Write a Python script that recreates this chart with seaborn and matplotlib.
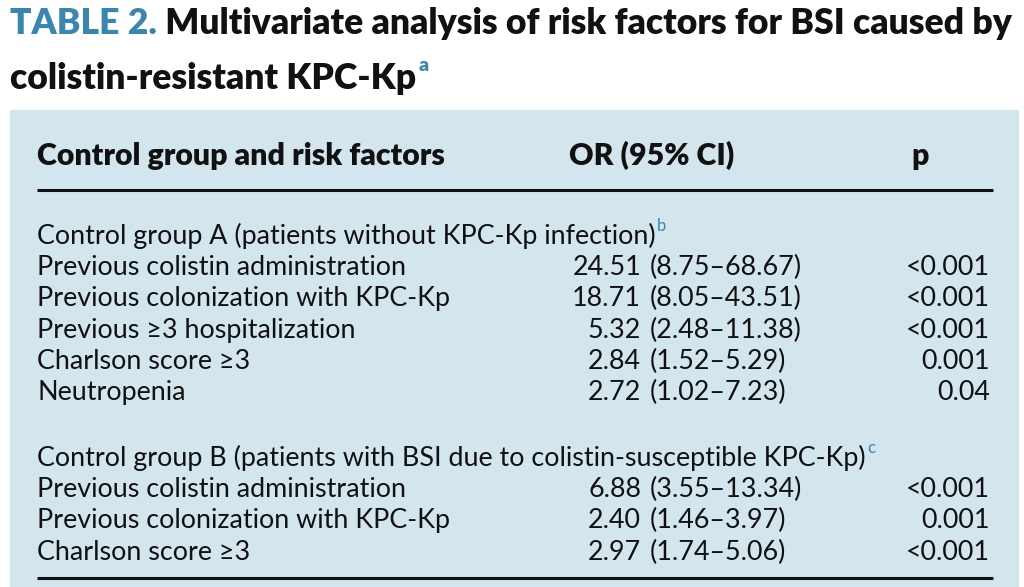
import pandas as pd
import matplotlib.pyplot as plt
import seaborn as sns
from matplotlib.patches import Rectangle

# Table content
title_tag = "TABLE 2."
title_line1 = " Multivariate analysis of risk factors for BSI caused by"
title_line2 = "colistin-resistant KPC-Kp"
header = ["Control group and risk factors", "OR (95% CI)", "p"]

group_labels = ["Control group A (patients without KPC-Kp infection)",
                "Control group B (patients with BSI due to colistin-susceptible KPC-Kp)"]
group_notes = ["b", "c"]

factors_a = ["Previous colistin administration", "Previous colonization with KPC-Kp",
             "Previous \u22653 hospitalization", "Charlson score \u22653", "Neutropenia"]
or_a = [24.51, 18.71, 5.32, 2.84, 2.72]
ci_low_a = [8.75, 8.05, 2.48, 1.52, 1.02]
ci_high_a = [68.67, 43.51, 11.38, 5.29, 7.23]
p_a = ["<0.001", "<0.001", "<0.001", "0.001", "0.04"]

factors_b = ["Previous colistin administration", "Previous colonization with KPC-Kp",
             "Charlson score \u22653"]
or_b = [6.88, 2.40, 2.97]
ci_low_b = [3.55, 1.46, 1.74]
ci_high_b = [13.34, 3.97, 5.06]
p_b = ["<0.001", "0.001", "<0.001"]

df_a = pd.DataFrame({"factor": factors_a, "or": or_a, "lo": ci_low_a, "hi": ci_high_a, "p": p_a})
df_b = pd.DataFrame({"factor": factors_b, "or": or_b, "lo": ci_low_b, "hi": ci_high_b, "p": p_b})

sns.set_theme(style="white")
plt.rcParams['font.family'] = ['Lato', 'DejaVu Sans']

blue = "#3a86b1"
ink = "#111111"
panel = "#d4e6ed"

fig = plt.figure(figsize=(10.24, 5.87), dpi=100)
ax = fig.add_axes([0, 0, 1, 1])
ax.set_xlim(0, 1024)
ax.set_ylim(587, 0)
ax.axis("off")

# Title
tsize = 25.6
t1 = ax.text(10, 34, title_tag, color=blue, fontsize=tsize, fontweight="heavy", va="baseline")
ax.annotate(title_line1, xy=(1, 0), xycoords=t1, va="bottom", ha="left",
            color=ink, fontsize=tsize, fontweight="heavy")
t2 = ax.text(10, 89, title_line2, color=ink, fontsize=tsize, fontweight="heavy", va="baseline")
ax.annotate("a", xy=(1, 0.9), xycoords=t2, xytext=(2, 0), textcoords="offset points",
            va="center", ha="left", color=blue, fontsize=14, fontweight="heavy")

# Blue panel
ax.add_patch(Rectangle((10, 110), 1008, 477, color=panel, zorder=0))

x_left, x_or, x_ci, x_p = 37, 641, 650, 990
body = 19.4

# Header
hsize = 21.8
ax.text(x_left, 165, header[0], fontsize=hsize, fontweight="heavy", color=ink, va="baseline")
ax.text(652, 165, header[1], fontsize=hsize, fontweight="heavy", color=ink, va="baseline", ha="center")
ax.text(920, 165, header[2], fontsize=hsize, fontweight="heavy", color=ink, va="baseline", ha="center")
ax.hlines([190, 578], x_left, 993, color=ink, lw=2.2)

def draw_group(df, label, note, y0, step=31.2):
    g = ax.text(x_left, y0, label, fontsize=body, color=ink, va="baseline")
    ax.annotate(note, xy=(1, 0.9), xycoords=g, xytext=(1, 0), textcoords="offset points",
                va="center", ha="left", color=blue, fontsize=12)
    for i, row in df.iterrows():
        y = y0 + step * (i + 1)
        ax.text(x_left, y, row["factor"], fontsize=body, color=ink, va="baseline")
        ax.text(x_or, y, f"{row['or']:.2f}", fontsize=body, color=ink, va="baseline", ha="right")
        ax.text(x_ci, y, f"({row['lo']:.2f}\u2013{row['hi']:.2f})", fontsize=body,
                color=ink, va="baseline", ha="left")
        ax.text(x_p, y, row["p"], fontsize=body, color=ink, va="baseline", ha="right")

draw_group(df_a, group_labels[0], group_notes[0], 244)
draw_group(df_b, group_labels[1], group_notes[1], 466)

fig.savefig("out.png", dpi=100)
